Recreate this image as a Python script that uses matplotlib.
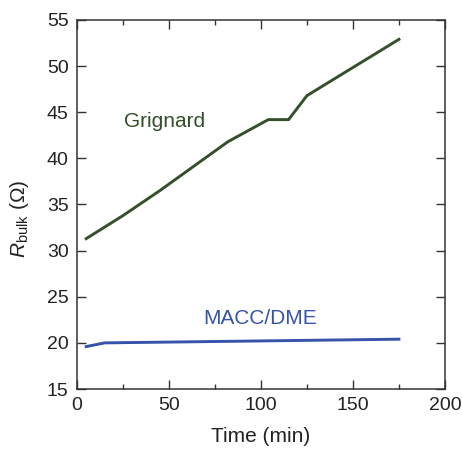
import matplotlib
matplotlib.use("Agg")
import matplotlib.pyplot as plt
from matplotlib.ticker import MultipleLocator

plt.rcParams['font.family'] = ['Liberation Sans', 'DejaVu Sans']
plt.rcParams['mathtext.fontset'] = 'custom'
plt.rcParams['mathtext.rm'] = 'Liberation Sans'
plt.rcParams['mathtext.it'] = 'Liberation Sans:italic'

# Bulk resistance over time for two electrolytes
grignard_t = [5, 25, 45, 82, 104, 115, 125, 175]
grignard_r = [31.3, 33.8, 36.5, 41.8, 44.2, 44.2, 46.8, 52.9]

macc_t = [5, 15, 175]
macc_r = [19.6, 20.0, 20.4]

green = '#33502a'
blue = '#3553a8'
axis_color = '#333333'
text_color = '#222222'

fig = plt.figure(figsize=(4.62, 4.49), dpi=100)
ax = fig.add_axes([0.1667, 0.1336, 0.7963, 0.8219])

ax.plot(grignard_t, grignard_r, color=green, lw=2.1, solid_joinstyle='miter')
ax.plot(macc_t, macc_r, color=blue, lw=2.1)

ax.text(47.8, 43.4, 'Grignard', color=green, fontsize=15, ha='center', va='baseline')
ax.text(99.5, 22.1, 'MACC/DME', color=blue, fontsize=15, ha='center', va='baseline')

ax.set_xlim(0, 200)
ax.set_ylim(15, 55)
ax.xaxis.set_major_locator(MultipleLocator(50))
ax.xaxis.set_minor_locator(MultipleLocator(25))
ax.yaxis.set_major_locator(MultipleLocator(5))

ax.tick_params(which='both', direction='in', top=True, right=True,
               colors=axis_color, labelcolor=text_color, labelsize=14, pad=6)
ax.tick_params(which='major', length=6.7, width=1)
ax.tick_params(which='minor', length=3.6, width=1)
for s in ax.spines.values():
    s.set_color(axis_color)
    s.set_linewidth(1.1)

ax.set_xlabel('Time (min)', fontsize=15, color=text_color)
ax.set_ylabel(r'$\mathit{R}_{\mathrm{bulk}}$ ($\Omega$)', fontsize=15,
              color=text_color)
ax.xaxis.set_label_coords(0.5, -0.103)
ax.yaxis.set_label_coords(-0.126, 0.46)

fig.savefig('out.png', dpi=100)
